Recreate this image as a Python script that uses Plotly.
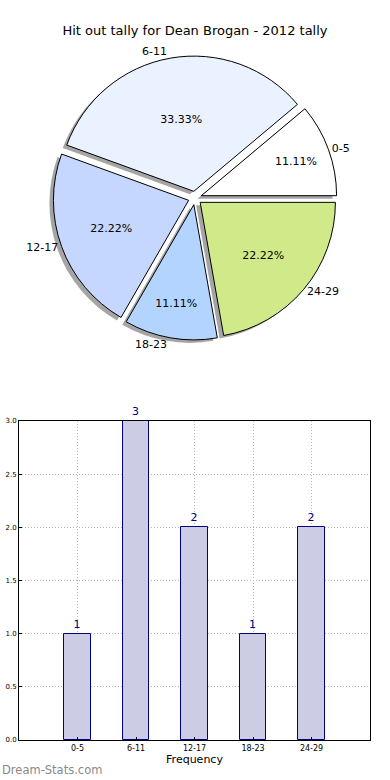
import plotly.graph_objects as go

categories = ["0-5", "6-11", "12-17", "18-23", "24-29"]
counts = [1, 3, 2, 1, 2]
pie_colors = ["#ffffff", "#eaf1ff", "#c5d7ff", "#b3d4ff", "#d0ea8a"]
title = "Hit out tally for Dean Brogan - 2012 tally"
ytick_vals = [0.0, 0.5, 1.0, 1.5, 2.0, 2.5, 3.0]

W, H = 390, 780
FONT = "DejaVu Sans"

def dom(x0, x1, y0, y1):
    return dict(x=[x0 / W, x1 / W], y=[1 - y1 / H, 1 - y0 / H])

pull = [0.05] * len(categories)
ROT = 50
pie_dom = dom(50, 340, 56, 340)
shadow_dom = dom(46, 336, 59, 343)

fig = go.Figure()

# shadow
fig.add_trace(go.Pie(
    labels=categories, values=counts, sort=False, direction="counterclockwise",
    rotation=ROT, pull=pull, domain=shadow_dom, textinfo="none",
    marker=dict(colors=["#888888"] * 5, line=dict(width=0)),
    hoverinfo="skip", showlegend=False, opacity=0.75,
))
# main pie with percentages
fig.add_trace(go.Pie(
    labels=categories, values=counts, sort=False, direction="counterclockwise",
    rotation=ROT, pull=pull, domain=pie_dom,
    texttemplate="%{percent:.2%}", textposition="inside", insidetextorientation="horizontal",
    textfont=dict(family=FONT, size=11, color="black"),
    marker=dict(colors=pie_colors, line=dict(color="black", width=1)),
    showlegend=False,
))
# outside labels
fig.add_trace(go.Pie(
    labels=categories, values=counts, sort=False, direction="counterclockwise",
    rotation=ROT, pull=pull, domain=pie_dom,
    textinfo="label", textposition="outside",
    textfont=dict(family=FONT, size=11, color="black"),
    marker=dict(colors=["rgba(0,0,0,0)"] * 5, line=dict(width=0)),
    hoverinfo="skip", showlegend=False,
))

fig.add_trace(go.Bar(
    x=categories, y=counts, width=0.45,
    marker=dict(color="#ccccE5", line=dict(color="#000080", width=1)),
    text=counts, textposition="outside", cliponaxis=False,
    textfont=dict(family=FONT, size=11, color="#000080"),
    xaxis="x", yaxis="y", showlegend=False,
))

grid = dict(showgrid=True, gridcolor="#b8b8b8", griddash="1px,2px", gridwidth=1)

fig.update_layout(
    width=W, height=H, margin=dict(l=0, r=0, t=0, b=0),
    paper_bgcolor="white", plot_bgcolor="white",
    font=dict(family=FONT, color="black"),
    title=dict(text=title, x=0.5, xanchor="center", y=1 - 30 / H, yanchor="middle",
               font=dict(family=FONT, size=13, color="black")),
    xaxis=dict(domain=[19 / W, 370 / W], range=[-1, 5], anchor="y", automargin=False,
               showline=True, mirror=True, linecolor="black", linewidth=1,
               ticks="inside", ticklen=3, tickcolor="black",
               tickfont=dict(family=FONT, size=8, color="black"),
               title=dict(text="Frequency", font=dict(family=FONT, size=11, color="black"), standoff=2),
               zeroline=False, **grid),
    yaxis=dict(domain=[1 - 740 / H, 1 - 421 / H], range=[0, 3], anchor="x", automargin=False,
               tickvals=ytick_vals, ticktext=[f"{v:.1f}" for v in ytick_vals],
               showline=True, mirror=True, linecolor="black", linewidth=1,
               ticks="inside", ticklen=3, tickcolor="black",
               tickfont=dict(family=FONT, size=7, color="black"),
               zeroline=False, **grid),
    bargap=0,
    annotations=[dict(text="Dream-Stats.com", xref="paper", yref="paper", x=0, y=1 - 770 / H,
                      xanchor="left", yanchor="middle", showarrow=False,
                      font=dict(family=FONT, size=11.5, color="#8a8a8a"))],
)

fig.write_html("out.html", config={"displayModeBar": False},
               post_script="document.body.style.margin='0';")
